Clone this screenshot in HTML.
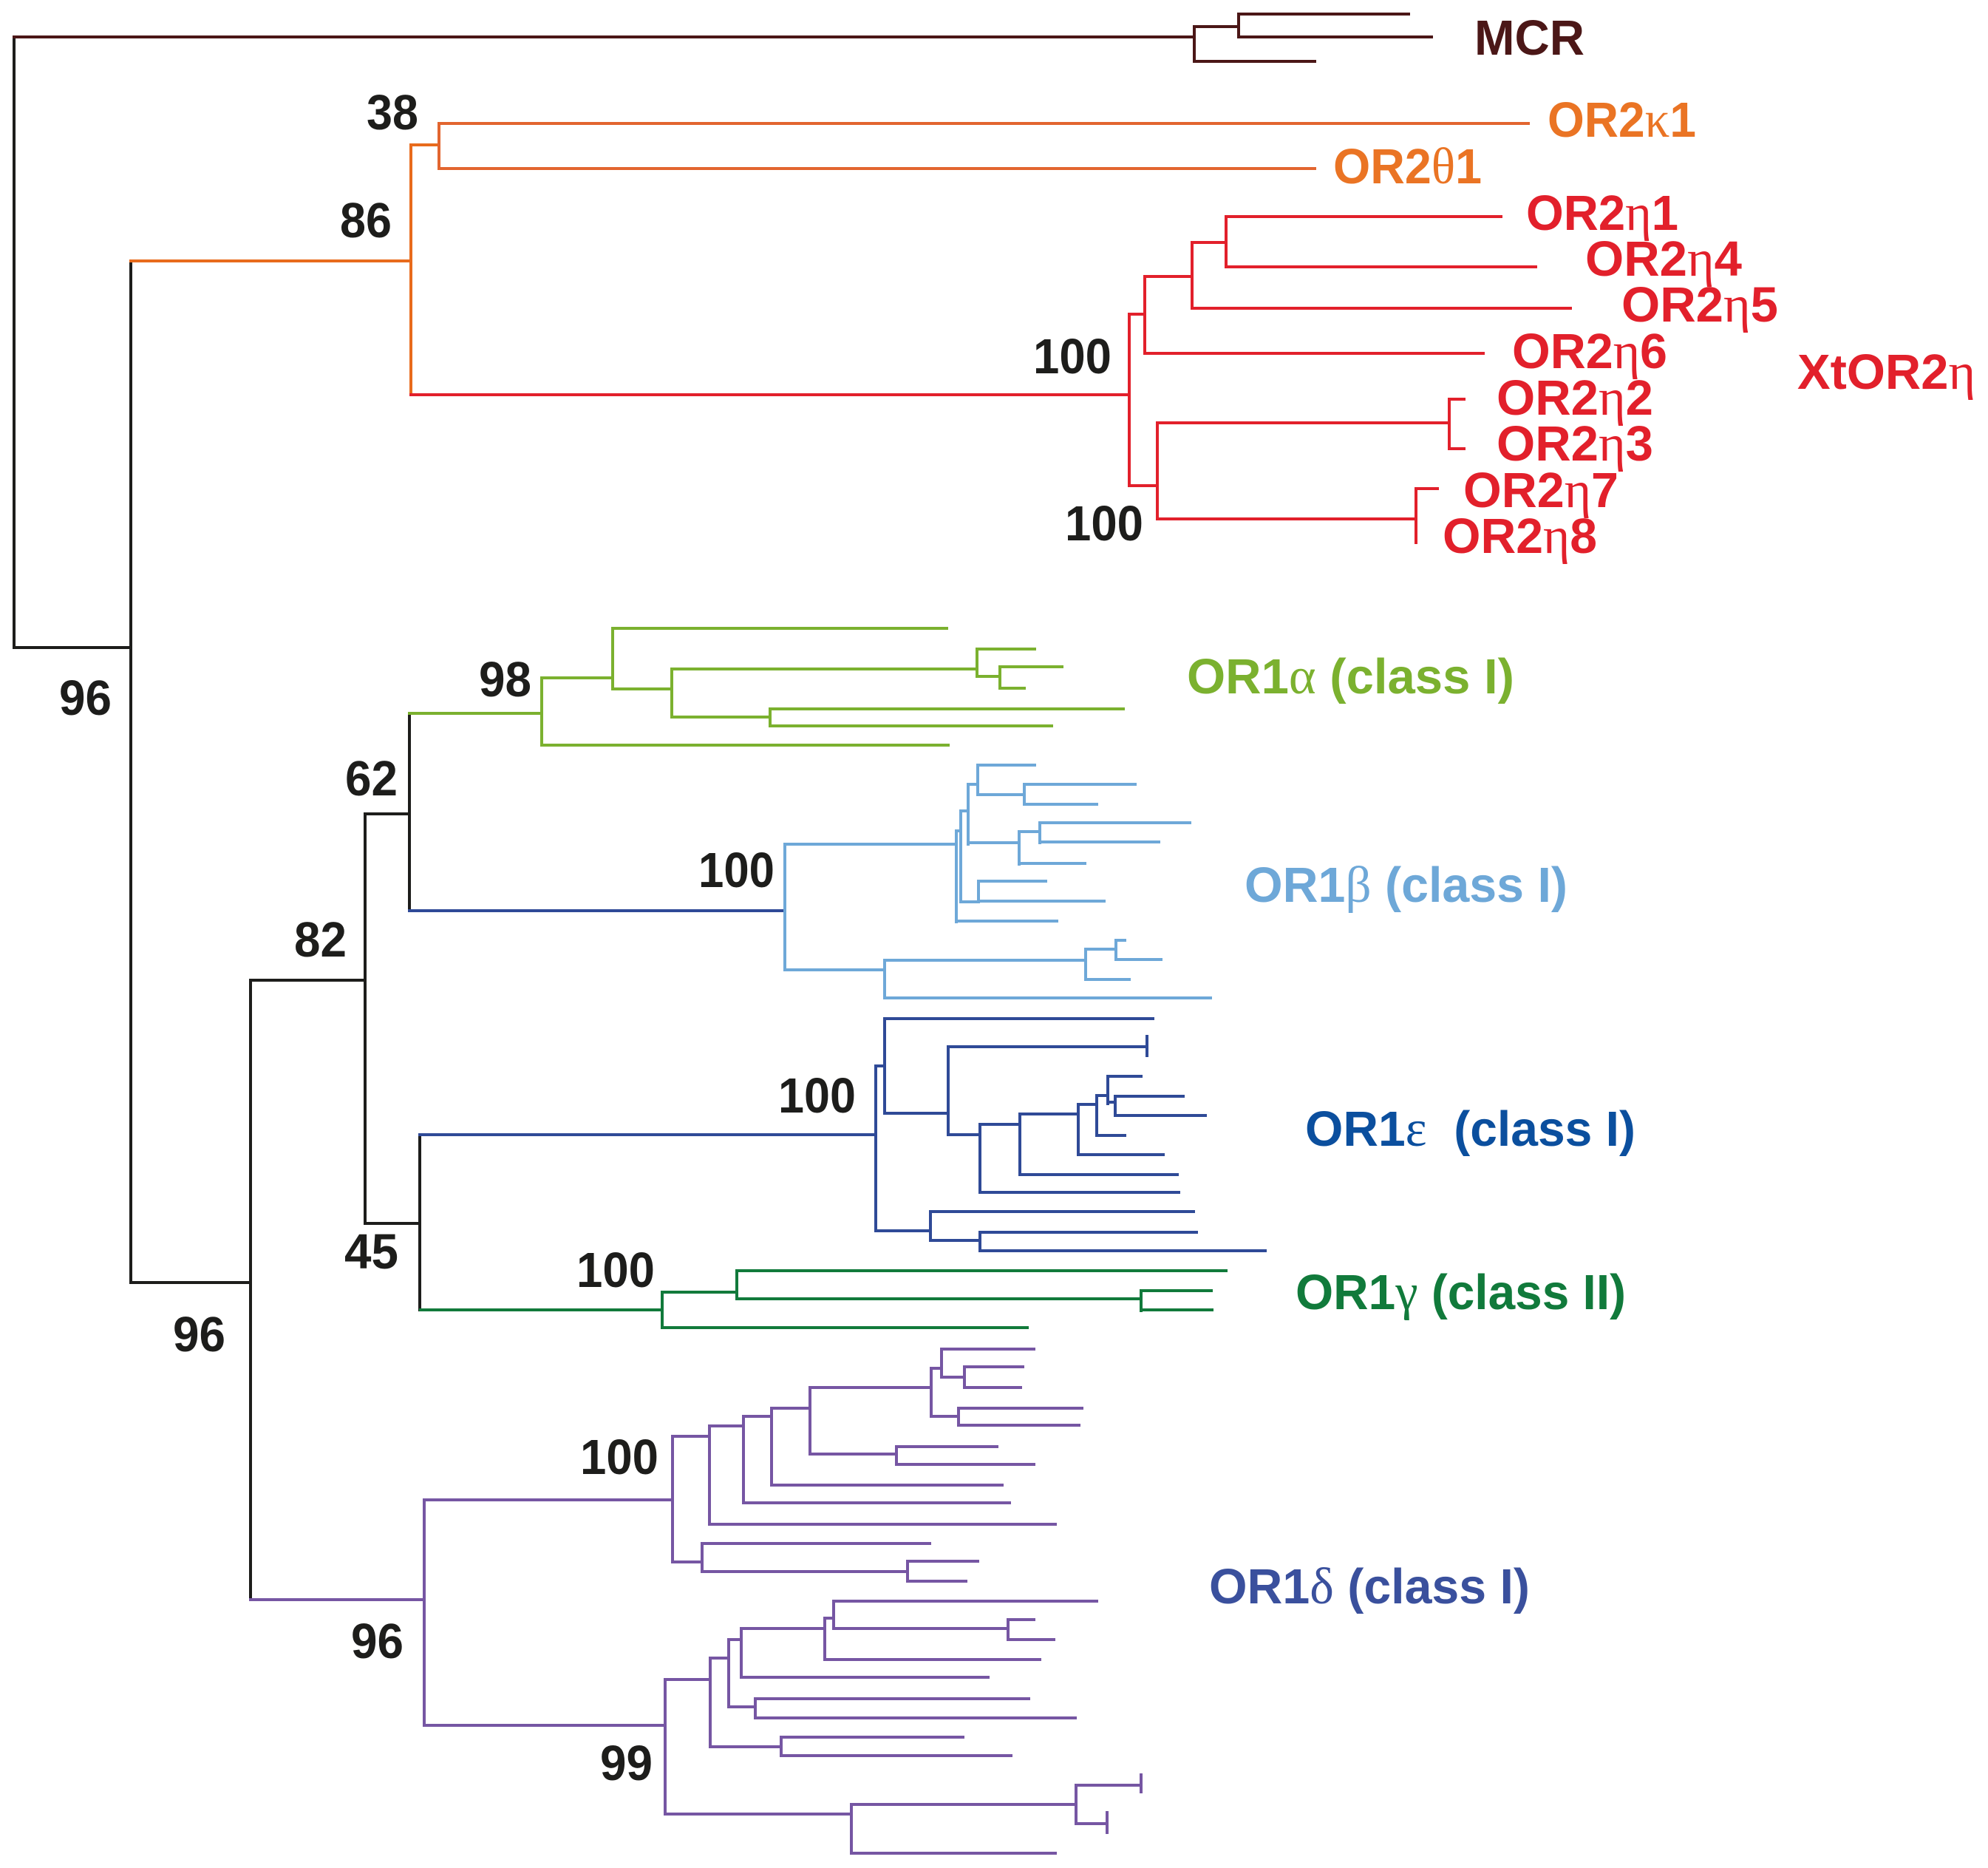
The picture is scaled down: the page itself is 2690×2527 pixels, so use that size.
<!DOCTYPE html>
<html><head><meta charset="utf-8"><style>
html,body{margin:0;padding:0;background:#fff;}
svg{display:block;}
text{font-family:"Liberation Sans",Arial,sans-serif;font-weight:bold;font-size:67px;}
.g{font-family:"Liberation Serif","Times New Roman",serif;font-weight:normal;font-size:70px;}
path{fill:none;stroke-width:4;stroke-linecap:square;stroke-linejoin:miter;}
</style></head><body>
<svg width="2690" height="2527" viewBox="0 0 2690 2527" xmlns="http://www.w3.org/2000/svg">
<rect width="2690" height="2527" fill="#fff"/>
<!-- black backbone -->
<path stroke="#1d1d1b" d="M19 50 V876 H177 M177 353 V1735 H339 M339 1326 V2162 M339 1326 H494 M494 1101 V1655 M494 1101 H554 M554 965 V1232 M494 1655 H568 M568 1535 V1772"/>
<!-- MCR brown -->
<path stroke="#4b1717" d="M19 50 H1616 M1616 36 V83 M1616 36 H1676 M1676 19 V50 M1676 19 H1906 M1676 50 H1937 M1616 83 H1779"/>
<!-- orange -->
<path stroke="#e86b1c" d="M177 353 H556 M556 196 V534 M556 196 H594"/>
<path stroke="#e2652f" d="M594 167 V228 M594 167 H2068 M594 228 H1779"/>
<!-- red -->
<path stroke="#e2202b" d="M556 534 H1528 M1528 425 V657 M1528 425 H1549 M1549 374 V478 M1549 374 H1613 M1613 328 V417 M1613 328 H1659 M1659 293 V361 M1659 293 H2031 M1659 361 H2078 M1613 417 H2125 M1549 478 H2007 M1528 657 H1566 M1566 572 V702 M1566 572 H1961 M1961 540 V607 M1961 540 H1981 M1961 607 H1981 M1566 702 H1916 M1916 661 V734 M1916 661 H1945"/>
<!-- green alpha -->
<path stroke="#7bb12f" d="M554 965 H733 M733 917 V1008 M733 917 H829 M829 850 V932 M829 850 H1281 M829 932 H909 M909 905 V970 M909 905 H1322 M1322 878 V915 M1322 878 H1400 M1322 915 H1353 M1353 902 V931 M1353 902 H1437 M1353 931 H1386 M909 970 H1042 M1042 959 V982 M1042 959 H1520 M1042 982 H1423 M733 1008 H1283"/>
<!-- dark blue stems -->
<path stroke="#2f4a97" d="M554 1232 H1062 M568 1535 H1185"/>
<!-- light blue beta -->
<path stroke="#6ea8d8" d="M1062 1142 V1312 M1062 1142 H1294 M1294 1124 V1247 M1294 1246 H1430 M1294 1124 H1300 M1300 1097 V1220 M1300 1097 H1310 M1310 1061 V1142 M1310 1061 H1323 M1323 1035 V1075 M1323 1035 H1400 M1323 1075 H1386 M1386 1061 V1088 M1386 1061 H1536 M1386 1088 H1484 M1310 1140 H1379 M1379 1125 V1169 M1379 1125 H1407 M1407 1113 V1140 M1407 1113 H1610 M1407 1139 H1568 M1379 1168 H1468 M1300 1220 H1324 M1324 1192 V1220 M1324 1192 H1415 M1324 1219 H1494 M1062 1312 H1197 M1197 1299 V1350 M1197 1299 H1469 M1469 1284 V1325 M1469 1284 H1510 M1510 1272 V1298 M1510 1272 H1522 M1510 1298 H1571 M1469 1325 H1528 M1197 1350 H1638"/>
<!-- dark blue epsilon -->
<path stroke="#2f4a97" d="M1185 1442 V1665 M1185 1442 H1197 M1197 1378 V1506 M1197 1378 H1560 M1197 1506 H1283 M1283 1416 V1535 M1283 1416 H1552 M1552 1402 V1428 M1283 1535 H1326 M1326 1521 V1613 M1326 1521 H1380 M1380 1507 V1589 M1380 1507 H1459 M1459 1494 V1562 M1459 1494 H1484 M1484 1482 V1536 M1484 1482 H1499 M1499 1456 V1493 M1499 1456 H1544 M1499 1491 H1509 M1509 1483 V1509 M1509 1483 H1601 M1509 1509 H1631 M1484 1536 H1522 M1459 1562 H1574 M1380 1589 H1593 M1326 1613 H1595 M1185 1665 H1259 M1259 1639 V1678 M1259 1639 H1615 M1259 1678 H1326 M1326 1667 V1692 M1326 1667 H1619 M1326 1692 H1712"/>
<!-- green gamma -->
<path stroke="#117a3b" d="M569 1772 H896 M896 1748 V1796 M896 1748 H997 M997 1719 V1757 M997 1719 H1659 M997 1757 H1544 M1544 1746 V1773 M1544 1746 H1639 M1544 1772 H1640 M896 1796 H1390"/>
<!-- purple delta -->
<path stroke="#7656a3" d="M339 2164 H574 M574 2029 V2334 M574 2029 H910 M910 1943 V2113 M910 1943 H960 M960 1929 V2062 M960 1929 H1006 M1006 1916 V2033 M1006 1916 H1044 M1044 1905 V2009 M1044 1905 H1096 M1096 1877 V1967 M1096 1877 H1260 M1260 1851 V1916 M1260 1851 H1274 M1274 1825 V1863 M1274 1825 H1399 M1274 1863 H1305 M1305 1849 V1877 M1305 1849 H1384 M1305 1877 H1381 M1260 1916 H1297 M1297 1905 V1928 M1297 1905 H1464 M1297 1928 H1460 M1096 1967 H1213 M1213 1957 V1981 M1213 1957 H1349 M1213 1981 H1399 M1044 2009 H1356 M1006 2033 H1366 M960 2062 H1428 M910 2113 H950 M950 2088 V2126 M950 2088 H1258 M950 2126 H1228 M1228 2112 V2139 M1228 2112 H1323 M1228 2139 H1307 M574 2334 H900 M900 2272 V2454 M900 2272 H961 M961 2243 V2363 M961 2243 H986 M986 2218 V2309 M986 2218 H1003 M1003 2203 V2269 M1003 2203 H1116 M1116 2189 V2245 M1116 2189 H1128 M1128 2166 V2203 M1128 2166 H1484 M1128 2203 H1364 M1364 2191 V2218 M1364 2191 H1399 M1364 2218 H1426 M1116 2245 H1407 M1003 2269 H1337 M986 2309 H1022 M1022 2298 V2324 M1022 2298 H1392 M1022 2324 H1455 M961 2363 H1057 M1057 2350 V2375 M1057 2350 H1303 M1057 2375 H1368 M900 2454 H1152 M1152 2441 V2507 M1152 2441 H1456 M1456 2415 V2467 M1456 2415 H1544 M1544 2401 V2424 M1456 2467 H1498 M1498 2452 V2479 M1152 2507 H1428"/>

<!-- bootstrap numbers -->
<g fill="#1d1d1b">
<text x="496" y="175" textLength="70" lengthAdjust="spacingAndGlyphs">38</text>
<text x="460" y="321" textLength="70" lengthAdjust="spacingAndGlyphs">86</text>
<text x="1398" y="505" textLength="106" lengthAdjust="spacingAndGlyphs">100</text>
<text x="1441" y="731" textLength="106" lengthAdjust="spacingAndGlyphs">100</text>
<text x="80" y="967" textLength="71" lengthAdjust="spacingAndGlyphs">96</text>
<text x="648" y="942" textLength="71" lengthAdjust="spacingAndGlyphs">98</text>
<text x="467" y="1076" textLength="71" lengthAdjust="spacingAndGlyphs">62</text>
<text x="398" y="1294" textLength="71" lengthAdjust="spacingAndGlyphs">82</text>
<text x="945" y="1200" textLength="103" lengthAdjust="spacingAndGlyphs">100</text>
<text x="1053" y="1505" textLength="105" lengthAdjust="spacingAndGlyphs">100</text>
<text x="466" y="1716" textLength="73" lengthAdjust="spacingAndGlyphs">45</text>
<text x="234" y="1828" textLength="71" lengthAdjust="spacingAndGlyphs">96</text>
<text x="780" y="1741" textLength="106" lengthAdjust="spacingAndGlyphs">100</text>
<text x="785" y="1994" textLength="106" lengthAdjust="spacingAndGlyphs">100</text>
<text x="475" y="2243" textLength="71" lengthAdjust="spacingAndGlyphs">96</text>
<text x="812" y="2408" textLength="71" lengthAdjust="spacingAndGlyphs">99</text>
</g>

<!-- leaf labels -->
<text x="1995" y="74" fill="#4b1717" textLength="149" lengthAdjust="spacingAndGlyphs">MCR</text>
<text x="2094" y="185" fill="#ea7424" textLength="201" lengthAdjust="spacingAndGlyphs">OR2<tspan class="g">κ</tspan>1</text>
<text x="1804" y="248" fill="#ea7424" textLength="201" lengthAdjust="spacingAndGlyphs">OR2<tspan class="g">θ</tspan>1</text>
<g fill="#e2202b">
<text x="2065" y="311" textLength="206" lengthAdjust="spacingAndGlyphs">OR2<tspan class="g">η</tspan>1</text>
<text x="2145" y="373" textLength="212" lengthAdjust="spacingAndGlyphs">OR2<tspan class="g">η</tspan>4</text>
<text x="2194" y="435" textLength="212" lengthAdjust="spacingAndGlyphs">OR2<tspan class="g">η</tspan>5</text>
<text x="2046" y="498" textLength="210" lengthAdjust="spacingAndGlyphs">OR2<tspan class="g">η</tspan>6</text>
<text x="2025" y="561" textLength="212" lengthAdjust="spacingAndGlyphs">OR2<tspan class="g">η</tspan>2</text>
<text x="2025" y="623" textLength="212" lengthAdjust="spacingAndGlyphs">OR2<tspan class="g">η</tspan>3</text>
<text x="1980" y="686" textLength="210" lengthAdjust="spacingAndGlyphs">OR2<tspan class="g">η</tspan>7</text>
<text x="1952" y="748" textLength="209" lengthAdjust="spacingAndGlyphs">OR2<tspan class="g">η</tspan>8</text>
<text x="2432" y="526" textLength="241" lengthAdjust="spacingAndGlyphs">XtOR2<tspan class="g">η</tspan></text>
</g>

<!-- clade labels -->
<text x="1606" y="938" fill="#7bb12f" textLength="443" lengthAdjust="spacingAndGlyphs">OR1<tspan class="g">α</tspan> (class I)</text>
<text x="1684" y="1220" fill="#6ea8d8" textLength="437" lengthAdjust="spacingAndGlyphs">OR1<tspan class="g">β</tspan> (class I)</text>
<text x="1766" y="1550" fill="#0b4f9e" textLength="447" lengthAdjust="spacingAndGlyphs" xml:space="preserve">OR1<tspan class="g">ε</tspan>  (class I)</text>
<text x="1753" y="1771" fill="#117a3b" textLength="447" lengthAdjust="spacingAndGlyphs">OR1<tspan class="g">γ</tspan> (class II)</text>
<text x="1636" y="2169" fill="#3a509d" textLength="434" lengthAdjust="spacingAndGlyphs">OR1<tspan class="g">δ</tspan> (class I)</text>
</svg>
</body></html>
